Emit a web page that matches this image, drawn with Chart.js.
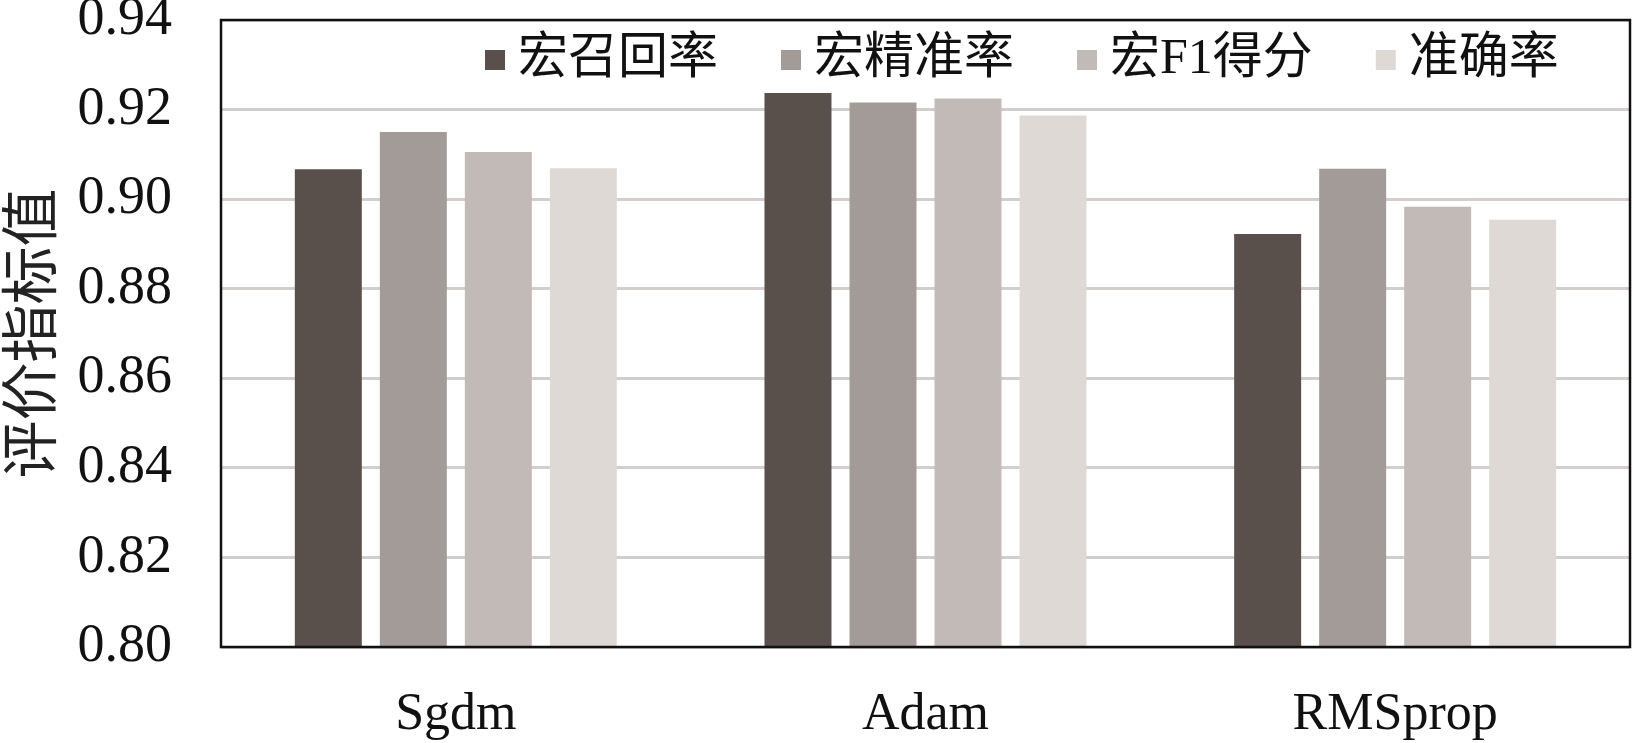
<!DOCTYPE html>
<html lang="zh-CN">
<head>
    <meta charset="UTF-8">
    <title>评价指标值</title>
    <script src="https://cdn.jsdelivr.net/npm/chart.js"></script>
    <style>
        body { margin: 0; background: #fff; }
        #wrap { width: 1633px; height: 743px; }
    </style>
</head>
<body>
<div id="wrap"><canvas id="barChart" width="1633" height="743"></canvas></div>
<script>
    // 数据
    const optimizers = ['Sgdm', 'Adam', 'RMSprop'];
    const seriesNames = ['宏召回率', '宏精准率', '宏F1得分', '准确率'];
    const macroRecall = [0.9067, 0.9237, 0.8922];
    const macroPrecision = [0.9150, 0.9216, 0.9068];
    const macroF1 = [0.9105, 0.9225, 0.8983];
    const accuracy = [0.9069, 0.9187, 0.8954];
    const yTicks = [0.80, 0.82, 0.84, 0.86, 0.88, 0.90, 0.92, 0.94];

    const colors = ['#59504b', '#a39b98', '#c1bab6', '#dfd9d5'];
    const serif = "'Liberation Serif', 'Times New Roman', 'Noto Sans CJK SC', serif";

    // 图例画在绘图区内部
    const insideLegend = {
        id: 'insideLegend',
        afterDraw(chart) {
            const ctx = chart.ctx;
            const area = chart.chartArea;
            ctx.save();
            ctx.font = '50px ' + serif;
            ctx.textBaseline = 'middle';
            let x = area.left + 264;
            const y = area.top + 40;
            chart.data.datasets.forEach(ds => {
                ctx.fillStyle = ds.backgroundColor;
                ctx.fillRect(x, y - 10, 20, 20);
                ctx.fillStyle = '#111';
                ctx.fillText(ds.label, x + 33, y);
                x += 33 + ctx.measureText(ds.label).width + 63;
            });
            ctx.restore();
        }
    };

    // 外框
    const frame = {
        id: 'frame',
        afterDatasetsDraw(chart) {
            const a = chart.chartArea;
            const ctx = chart.ctx;
            ctx.save();
            ctx.strokeStyle = '#111';
            ctx.lineWidth = 2.5;
            ctx.strokeRect(a.left, a.top, a.right - a.left, a.bottom - a.top);
            ctx.restore();
        }
    };

    const values = [macroRecall, macroPrecision, macroF1, accuracy];

    new Chart(document.getElementById('barChart'), {
        type: 'bar',
        data: {
            labels: optimizers,
            datasets: seriesNames.map((name, i) => ({
                label: name,
                data: values[i],
                backgroundColor: colors[i],
                borderWidth: 0,
                categoryPercentage: 0.724,
                barPercentage: 0.788
            }))
        },
        options: {
            responsive: false,
            animation: false,
            layout: { padding: { top: 20, right: 3, left: 0, bottom: 0 } },
            plugins: {
                legend: { display: false },
                tooltip: { enabled: false }
            },
            scales: {
                x: {
                    grid: { display: false, drawTicks: false },
                    border: { display: false },
                    ticks: { color: '#111', font: { family: serif, size: 52 }, padding: 37 },
                    afterFit(scale) {
                        scale.height = 96;
                        scale.paddingLeft = 0;
                        scale.paddingRight = 0;
                    }
                },
                y: {
                    min: yTicks[0],
                    max: yTicks[yTicks.length - 1],
                    afterBuildTicks(scale) { scale.ticks = yTicks.map(v => ({ value: v })); },
                    grid: { color: '#d3cecb', lineWidth: 3, drawTicks: false },
                    border: { display: false },
                    ticks: {
                        color: '#111',
                        font: { family: serif, size: 54 },
                        padding: 49,
                        callback: v => Number(v).toFixed(2)
                    },
                    title: {
                        display: true,
                        text: '评价指标值',
                        color: '#222',
                        font: { family: "'Noto Sans CJK SC', sans-serif", size: 58, lineHeight: 1, weight: 'normal' },
                        padding: 0
                    },
                    afterFit(scale) {
                        scale.width = 221;
                        scale.paddingTop = 0;
                        scale.paddingBottom = 0;
                    }
                }
            }
        },
        plugins: [frame, insideLegend]
    });
</script>
</body>
</html>
